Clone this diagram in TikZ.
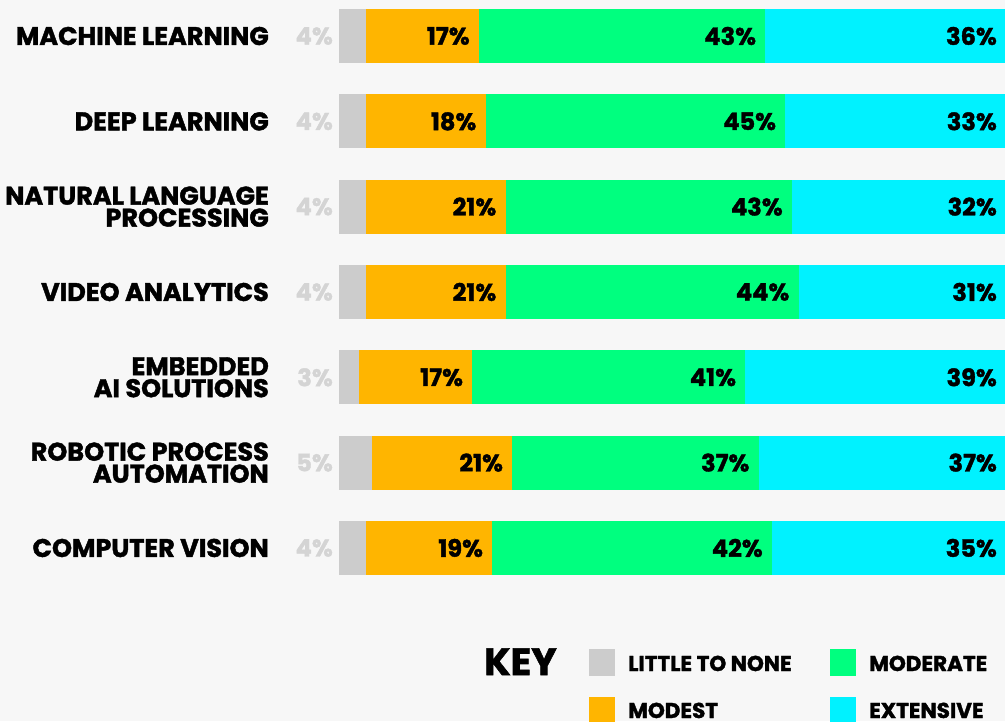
\documentclass[tikz,border=0pt]{standalone}
\usepackage{fontspec}
\setmainfont{Poppins}
\newcommand\heavyfont{\bfseries\addfontfeature{FakeBold=1.6}}
\definecolor{bg}{HTML}{F7F7F7}
\definecolor{cnone}{HTML}{CCCCCC}
\definecolor{cmodest}{HTML}{FFB500}
\definecolor{cmoderate}{HTML}{00FF7F}
\definecolor{cext}{HTML}{00F2FF}
\definecolor{cpct}{HTML}{D4D4D4}
\tikzset{
  catlab/.style={anchor=east, align=right, inner sep=0pt, font=\fontsize{25.5}{22}\selectfont\heavyfont},
  pctlab/.style={anchor=east, inner sep=0pt, font=\fontsize{24}{24}\selectfont\heavyfont},
  graylab/.style={pctlab, text=cpct},
  keytitle/.style={anchor=base west, inner sep=0pt, font=\fontsize{38}{38}\selectfont\heavyfont},
  keylab/.style={anchor=base west, inner sep=0pt, font=\fontsize{21.5}{21}\selectfont\heavyfont},
}
\begin{document}
\begin{tikzpicture}[x=1pt,y=-1pt]
\fill[bg] (0,0) rectangle (1005,721);
\useasboundingbox (0,0) rectangle (1005,721);
\clip (0,0) rectangle (1005,721);
\foreach \i/\lab/\a/\b/\c/\d in {
  0/{MACHINE LEARNING}/4/17/43/36,
  1/{DEEP LEARNING}/4/18/45/33,
  2/{NATURAL LANGUAGE\\PROCESSING}/4/21/43/32,
  3/{VIDEO ANALYTICS}/4/21/44/31,
  4/{EMBEDDED\\AI SOLUTIONS}/3/17/41/39,
  5/{ROBOTIC PROCESS\\AUTOMATION}/5/21/37/37,
  6/{COMPUTER VISION}/4/19/42/35}{
  \pgfmathsetmacro\yt{9+85.33*\i}
  \pgfmathsetmacro\yb{\yt+54}
  \pgfmathsetmacro\yc{\yt+27}
  \pgfmathsetmacro\xa{339+6.66*\a}
  \pgfmathsetmacro\xb{339+6.66*(\a+\b)}
  \pgfmathsetmacro\xc{339+6.66*(\a+\b+\c)}
  \fill[cnone] (339,\yt) rectangle (\xa,\yb);
  \fill[cmodest] (\xa,\yt) rectangle (\xb,\yb);
  \fill[cmoderate] (\xb,\yt) rectangle (\xc,\yb);
  \fill[cext] (\xc,\yt) rectangle (1005,\yb);
  \node[catlab] (cat\i) at (269,\yc) {\lab};
  \node[graylab] (g\i) at (333,\yc) {\a\%};
  \node[pctlab] (o\i) at (\xb-9,\yc) {\b\%};
  \node[pctlab] (m\i) at (\xc-9,\yc) {\c\%};
  \node[pctlab] (e\i) at (997,\yc) {\d\%};
}
% legend
\node[keytitle] (key) at (484,675) {KEY};
\fill[cnone] (589,649) rectangle (615,676);
\fill[cmodest] (589,697) rectangle (615,724);
\fill[cmoderate] (830,649) rectangle (856,676);
\fill[cext] (830,697) rectangle (856,724);
\node[keylab] (k1) at (628,671) {LITTLE TO NONE};
\node[keylab] (k2) at (628,718) {MODEST};
\node[keylab] (k3) at (869,671) {MODERATE};
\node[keylab] (k4) at (869,718) {EXTENSIVE};
\end{tikzpicture}
\end{document}
